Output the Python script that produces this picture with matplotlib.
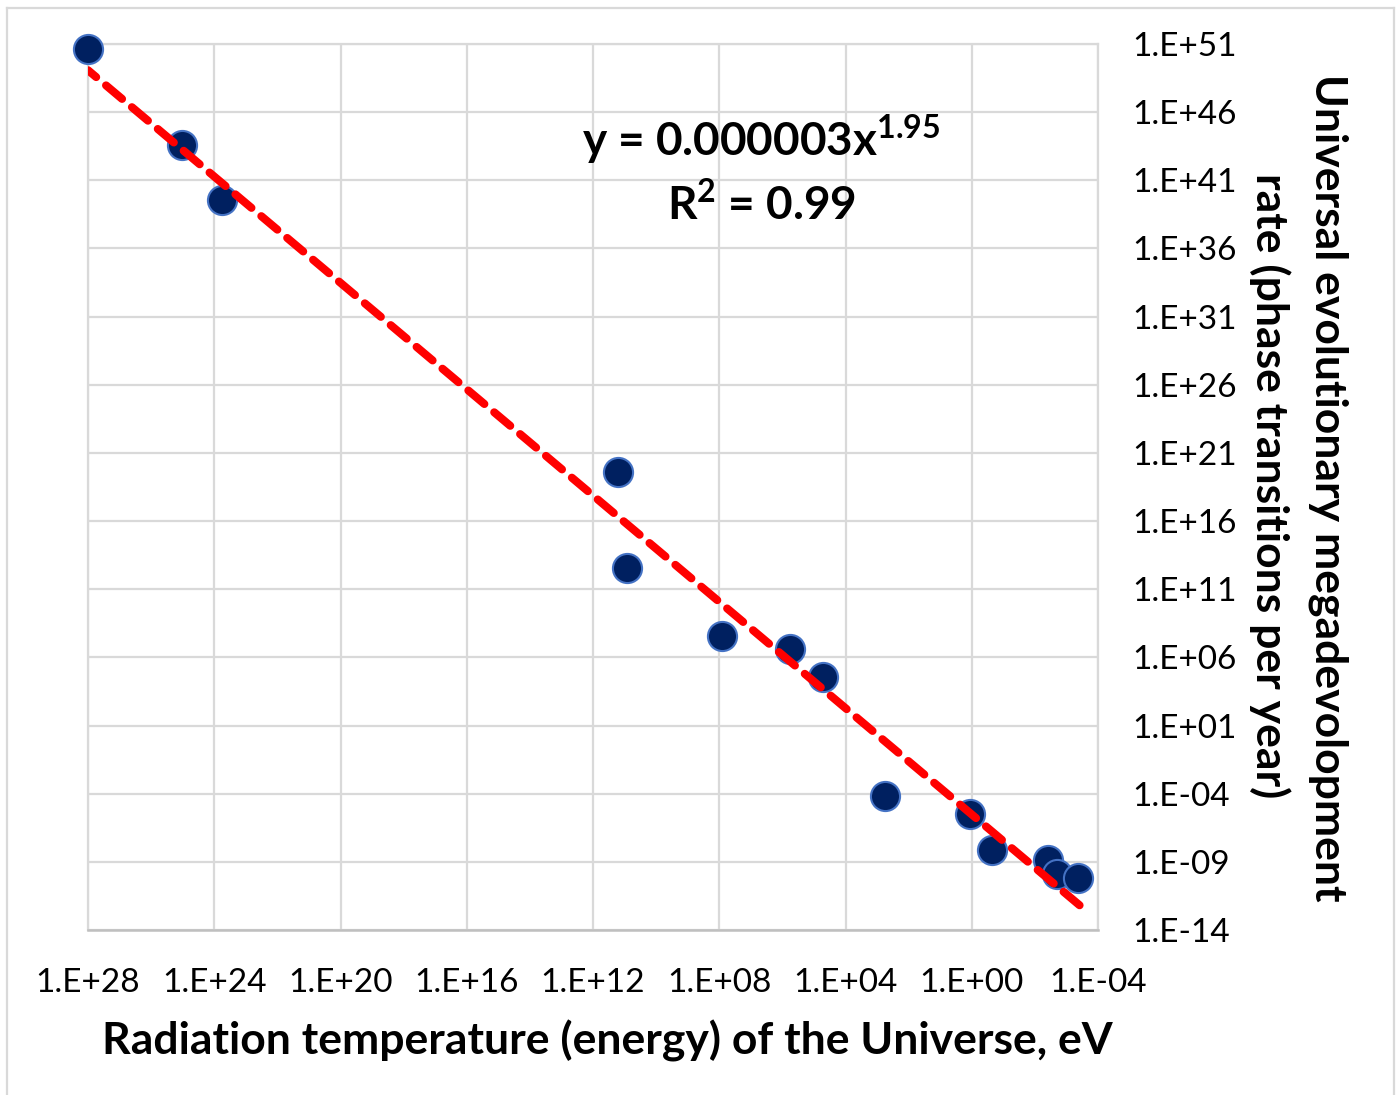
import numpy as np
import matplotlib.pyplot as plt
from matplotlib.lines import Line2D

# radiation temperature of the Universe, eV
temperature_ev = [1e28, 1.05e25, 5.6e23, 1.6e11, 8.3e10, 8.1e7, 5.8e5, 5.1e4,
                  5.6e2, 1.12, 2.3e-1, 3.8e-3, 2.0e-3, 4.3e-4]
# universal evolutionary megadevolopment rate, phase transitions per year
evo_rate = [4.0e50, 4.0e43, 3.5e39, 4.0e19, 3.6e12, 3.7e7, 4.1e6, 3.6e4,
            6.8e-5, 3.2e-6, 7.4e-9, 1.35e-9, 1.26e-10, 6.5e-11]

# power-law trend
trend_a = 0.000003
trend_b = 1.95
trend_r2 = 0.99

x_powers = [28, 24, 20, 16, 12, 8, 4, 0, -4]
y_powers = list(range(-14, 52, 5))


def sci_label(p):
    return '1.E%s%02d' % ('+' if p >= 0 else '-', abs(p))


plt.rcParams['font.family'] = ['Lato', 'DejaVu Sans']
plt.rcParams['mathtext.fontset'] = 'custom'
plt.rcParams['mathtext.rm'] = 'Lato'
plt.rcParams['mathtext.bf'] = 'Lato:bold'

fig = plt.figure(figsize=(14, 10.95), dpi=100)
ax = fig.add_axes([88 / 1400, 1 - 930 / 1095, (1098 - 88) / 1400, (930 - 44) / 1095])

ax.set_xscale('log')
ax.set_yscale('log')
ax.set_xlim(1e28, 1e-4)
ax.set_ylim(1e-14, 1e51)

ax.set_xticks([10.0 ** p for p in x_powers])
ax.set_xticklabels([sci_label(p) for p in x_powers])
ax.set_yticks([10.0 ** p for p in y_powers])
ax.set_yticklabels([sci_label(p) for p in y_powers])
ax.xaxis.set_minor_locator(plt.NullLocator())
ax.yaxis.set_minor_locator(plt.NullLocator())

ax.yaxis.tick_right()
ax.tick_params(axis='both', length=0, labelsize=24, colors='#000000')
ax.tick_params(axis='x', pad=27)
ax.tick_params(axis='y', pad=25)

ax.grid(True, color='#d9d9d9', linewidth=1.6)
ax.set_axisbelow(True)
for side in ['top', 'right', 'left']:
    ax.spines[side].set_color('#d9d9d9')
    ax.spines[side].set_linewidth(1.6)
ax.spines['bottom'].set_color('#bfbfbf')
ax.spines['bottom'].set_linewidth(1.8)

# trend line over the data range
tx = np.logspace(np.log10(min(temperature_ev)) - 0.05, np.log10(max(temperature_ev)), 200)
ty = trend_a * tx ** trend_b
ax.plot(tx, ty, color='#ff0000', linewidth=5.8, linestyle=(0, (2.6, 1.6)),
        dash_capstyle='round', zorder=4)

ax.scatter(temperature_ev, evo_rate, s=440, color='#002060', edgecolor='#4472c4',
           linewidth=1.5, zorder=3, clip_on=False)

ax.text(0.667, 0.892, r'y = 0.000003x$^{\mathbf{%.2f}}$' % trend_b, transform=ax.transAxes,
        ha='center', va='center', fontsize=33, fontweight='bold')
ax.text(0.667, 0.818, r'R$^{\mathbf{2}}$ = %.2f' % trend_r2, transform=ax.transAxes,
        ha='center', va='center', fontsize=33, fontweight='bold')

ax.set_xlabel('Radiation temperature (energy) of the Universe, eV',
              fontsize=32, fontweight='bold', labelpad=16)
ax.xaxis.label.set_x(0.514)

fig.text(1328 / 1400, 1 - 488 / 1095, 'Universal evolutionary megadevolopment',
         rotation=-90, ha='center', va='center', fontsize=32, fontweight='bold')
fig.text(1270 / 1400, 1 - 486 / 1095, 'rate (phase transitions per year)',
         rotation=-90, ha='center', va='center', fontsize=32, fontweight='bold')

# outer frame
for xs, ys in [([7, 7], [8, 1095]), ([7, 1394], [8, 8]), ([1394, 1394], [8, 1095])]:
    fig.add_artist(Line2D([x / 1400 for x in xs], [1 - y / 1095 for y in ys],
                          color='#d9d9d9', linewidth=1.6, transform=fig.transFigure))

fig.savefig('out.png', dpi=100)
